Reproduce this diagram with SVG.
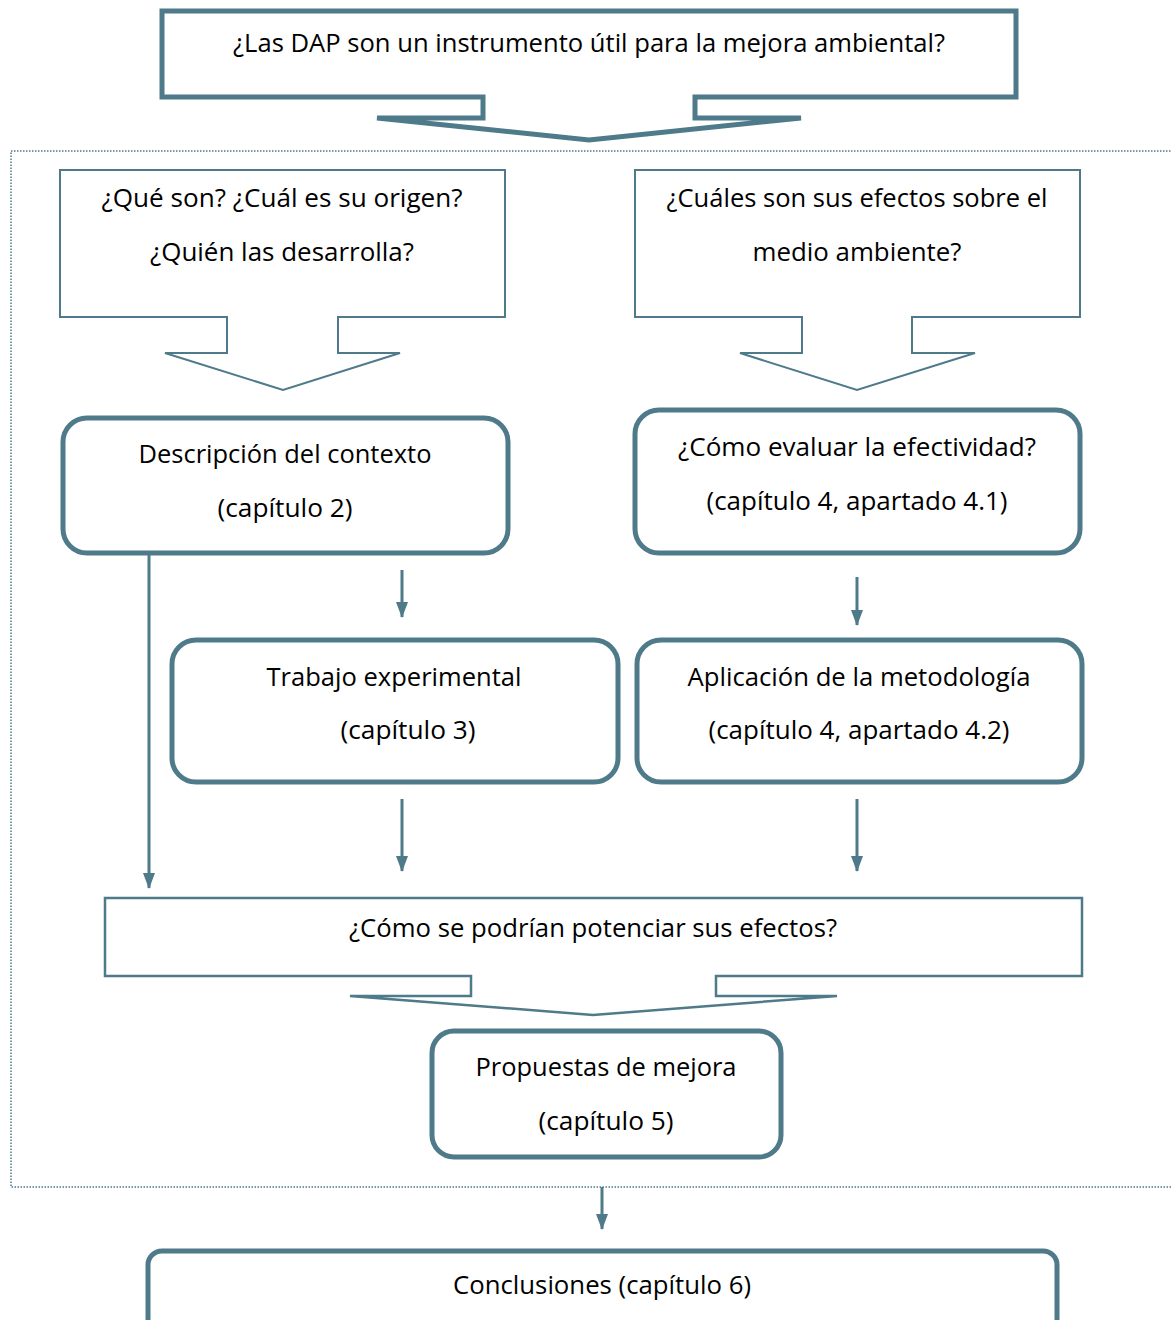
<svg xmlns="http://www.w3.org/2000/svg" width="1171" height="1320" viewBox="0 0 1171 1320">
  <defs>
    <style>
      .t { font-family: "Open Sans", "Liberation Sans", sans-serif; font-size: 26px; fill: #000; text-anchor: middle; }
      .call { fill: #fff; stroke: #4e7a8a; stroke-linejoin: miter; }
      .box { fill: #fff; stroke: #4e7a8a; stroke-width: 5; }
      .frame { fill: none; stroke: #4e7a8a; stroke-width: 1.5; stroke-dasharray: 1.5 1.5; }
      .link { fill: none; stroke: #4e7a8a; stroke-width: 3; }
    </style>
    <!-- arrowhead drawn along +x so that orient="auto" turns it with the line -->
    <marker id="head" viewBox="0 0 16 12" refX="15" refY="6" markerWidth="16" markerHeight="12" markerUnits="userSpaceOnUse" orient="auto">
      <path d="M0,0 L16,6 L0,12 Z" fill="#4e7a8a"/>
    </marker>
  </defs>

  <!-- dotted frame around the analysis block -->
  <rect class="frame" x="11" y="151" width="1172" height="1036"/>

  <!-- main question callout -->
  <g id="n-question">
    <path class="call" stroke-width="5" d="M162,11 H1016 V97 H695 V118 H801 L589,140 L377,118 H483 V97 H162 Z"/>
    <text class="t" x="589" y="52" textLength="712" lengthAdjust="spacingAndGlyphs">¿Las DAP son un instrumento útil para la mejora ambiental?</text>
  </g>

  <g id="n-origin">
    <path class="call" stroke-width="2" d="M60,170 H505 V317 H338 V353 H400 L283,390 L165,353 H227 V317 H60 Z"/>
    <text class="t" x="282" y="207" textLength="361" lengthAdjust="spacingAndGlyphs">¿Qué son? ¿Cuál es su origen?</text>
    <text class="t" x="282" y="261" textLength="264" lengthAdjust="spacingAndGlyphs">¿Quién las desarrolla?</text>
  </g>

  <g id="n-effects">
    <path class="call" stroke-width="2" d="M635,170 H1080 V317 H912 V353 H975 L857,390 L740,353 H802 V317 H635 Z"/>
    <text class="t" x="857" y="207" textLength="381" lengthAdjust="spacingAndGlyphs">¿Cuáles son sus efectos sobre el</text>
    <text class="t" x="857" y="261" textLength="209" lengthAdjust="spacingAndGlyphs">medio ambiente?</text>
  </g>

  <g id="n-context">
    <rect class="box" x="63" y="418" width="445" height="135" rx="24"/>
    <text class="t" x="285" y="463" textLength="293" lengthAdjust="spacingAndGlyphs">Descripción del contexto</text>
    <text class="t" x="285" y="517" textLength="135" lengthAdjust="spacingAndGlyphs">(capítulo 2)</text>
  </g>

  <g id="n-evaluate">
    <rect class="box" x="635" y="410" width="445" height="143" rx="24"/>
    <text class="t" x="857" y="456" textLength="358" lengthAdjust="spacingAndGlyphs">¿Cómo evaluar la efectividad?</text>
    <text class="t" x="857" y="510" textLength="301" lengthAdjust="spacingAndGlyphs">(capítulo 4, apartado 4.1)</text>
  </g>

  <g id="n-experimental">
    <rect class="box" x="172" y="640" width="446" height="142" rx="24"/>
    <text class="t" x="394" y="686" textLength="255" lengthAdjust="spacingAndGlyphs">Trabajo experimental</text>
    <text class="t" x="408" y="739" textLength="135" lengthAdjust="spacingAndGlyphs">(capítulo 3)</text>
  </g>

  <g id="n-method">
    <rect class="box" x="637" y="640" width="445" height="142" rx="24"/>
    <text class="t" x="859" y="686" textLength="343" lengthAdjust="spacingAndGlyphs">Aplicación de la metodología</text>
    <text class="t" x="859" y="739" textLength="301" lengthAdjust="spacingAndGlyphs">(capítulo 4, apartado 4.2)</text>
  </g>

  <g id="n-enhance">
    <path class="call" stroke-width="2.5" d="M105,898 H1082 V976 H716 V996 H837 L593,1015 L350,996 H471 V976 H105 Z"/>
    <text class="t" x="593" y="937" textLength="488" lengthAdjust="spacingAndGlyphs">¿Cómo se podrían potenciar sus efectos?</text>
  </g>

  <g id="n-proposals">
    <rect class="box" x="432" y="1031" width="349" height="126" rx="22"/>
    <text class="t" x="606" y="1076" textLength="261" lengthAdjust="spacingAndGlyphs">Propuestas de mejora</text>
    <text class="t" x="606" y="1130" textLength="135" lengthAdjust="spacingAndGlyphs">(capítulo 5)</text>
  </g>

  <g id="n-conclusions">
    <rect class="box" x="148" y="1251" width="909" height="110" rx="14"/>
    <text class="t" x="602" y="1294" textLength="298" lengthAdjust="spacingAndGlyphs">Conclusiones (capítulo 6)</text>
  </g>

  <!-- connectors -->
  <g id="connectors">
    <path class="link" d="M149,553 V888" marker-end="url(#head)"/>
    <path class="link" d="M402,570 V617" marker-end="url(#head)"/>
    <path class="link" d="M857,577 V625" marker-end="url(#head)"/>
    <path class="link" d="M402,799 V871" marker-end="url(#head)"/>
    <path class="link" d="M857,799 V871" marker-end="url(#head)"/>
    <path class="link" d="M602,1187 V1229" marker-end="url(#head)"/>
  </g>
</svg>
